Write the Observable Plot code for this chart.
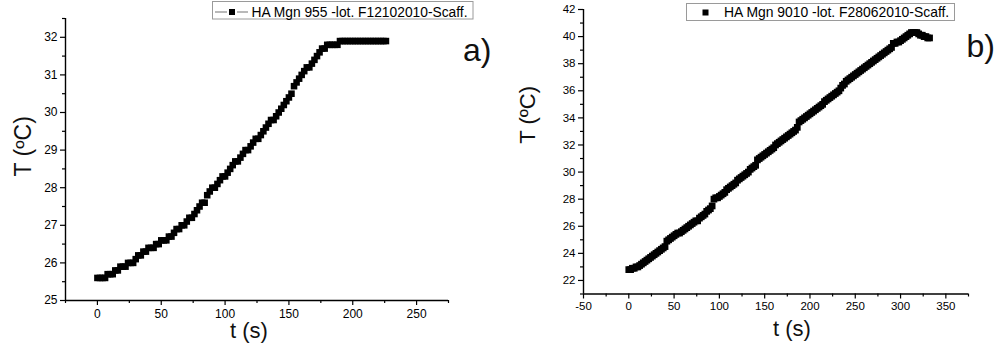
<!DOCTYPE html>
<html>
<head>
<meta charset="utf-8">
<script src="https://cdn.jsdelivr.net/npm/d3@7"></script>
<script src="https://cdn.jsdelivr.net/npm/@observablehq/plot@0.6"></script>
<style>
  html, body { margin: 0; padding: 0; background: #fff; }
  #wrap { position: relative; width: 1001px; height: 352px; overflow: hidden; background: #fff; font-family: "Liberation Sans", Arial, sans-serif; }
  #wrap > .p { position: absolute; top: 0; }
  #overlay { position: absolute; left: 0; top: 0; pointer-events: none; }
</style>
</head>
<body>
<div id="wrap">
  <div class="p" id="pa" style="left:0px"></div>
  <div class="p" id="pb" style="left:500px"></div>
</div>
<script>
// ---------- Panel a data ----------
const tA = [
  0,2,4,6,8,10,12,14,16,18,
  20,22,24,26,28,30,32,34,36,38,
  40,42,44,46,48,50,52,54,56,58,
  60,62,64,66,68,70,72,74,76,78,
  80,82,84,86,88,90,92,94,96,98,
  100,102,104,106,108,110,112,114,116,118,
  120,122,124,126,128,130,132,134,136,138,
  140,142,144,146,148,150,152,154,156,158,
  160,162,164,166,168,170,172,174,176,178,
  180,182,184,186,188,190,192,194,196,198,
  200,202,204,206,208,210,212,214,216,218,
  220,222,224,226
];
const TA = [
  25.6,25.6,25.6,25.6,25.7,25.7,25.7,25.8,25.8,25.9,
  25.9,25.9,26.0,26.0,26.0,26.1,26.2,26.2,26.3,26.3,
  26.4,26.4,26.4,26.5,26.5,26.6,26.6,26.6,26.7,26.7,
  26.8,26.9,26.9,27.0,27.0,27.1,27.2,27.2,27.3,27.4,
  27.5,27.6,27.6,27.8,27.9,28.0,28.0,28.1,28.2,28.3,
  28.3,28.4,28.5,28.6,28.7,28.7,28.8,28.9,29.0,29.0,
  29.1,29.2,29.3,29.3,29.4,29.5,29.6,29.7,29.8,29.8,
  29.9,30.0,30.1,30.2,30.3,30.4,30.5,30.7,30.8,30.9,
  31.0,31.1,31.2,31.2,31.3,31.4,31.5,31.6,31.7,31.7,
  31.8,31.8,31.8,31.8,31.8,31.9,31.9,31.9,31.9,31.9,
  31.9,31.9,31.9,31.9,31.9,31.9,31.9,31.9,31.9,31.9,
  31.9,31.9,31.9,31.9
];
const xDomainA = [-25, 275];
const yDomainA = [25, 32.5];
const xMajorA = [0, 50, 100, 150, 200, 250];
const xMinorA = [-25, 25, 75, 125, 175, 225, 275];
const yMajorA = [25, 26, 27, 28, 29, 30, 31, 32];
const yMinorA = [25.5, 26.5, 27.5, 28.5, 29.5, 30.5, 31.5, 32.5];
const legendA = "HA Mgn 955 -lot. F12102010-Scaff.";
const tagA = "a)";

// ---------- Panel b data ----------
const tB = [
  0,2,4,6,8,10,12,14,16,18,
  20,22,24,26,28,30,32,34,36,38,
  40,42,44,46,48,50,52,54,56,58,
  60,62,64,66,68,70,72,74,76,78,
  80,82,84,86,88,90,92,94,96,98,
  100,102,104,106,108,110,112,114,116,118,
  120,122,124,126,128,130,132,134,136,138,
  140,142,144,146,148,150,152,154,156,158,
  160,162,164,166,168,170,172,174,176,178,
  180,182,184,186,188,190,192,194,196,198,
  200,202,204,206,208,210,212,214,216,218,
  220,222,224,226,228,230,232,234,236,238,
  240,242,244,246,248,250,252,254,256,258,
  260,262,264,266,268,270,272,274,276,278,
  280,282,284,286,288,290,292,294,296,298,
  300,302,304,306,308,310,312,314,316,318,
  320,322,324,326,328,330,332
];
const TB = [
  22.8,22.8,22.9,22.9,23.0,23.0,23.1,23.2,23.3,23.4,
  23.5,23.6,23.7,23.8,23.9,24.0,24.1,24.2,24.3,24.4,
  24.5,24.9,25.0,25.1,25.2,25.3,25.4,25.5,25.5,25.6,
  25.7,25.8,25.9,26.0,26.1,26.2,26.3,26.4,26.4,26.6,
  26.7,26.8,26.9,27.1,27.2,27.3,27.5,28.0,28.1,28.1,
  28.2,28.3,28.4,28.5,28.7,28.8,28.9,29.0,29.1,29.2,
  29.4,29.5,29.6,29.7,29.8,29.9,30.0,30.2,30.3,30.4,
  30.5,30.9,31.0,31.1,31.2,31.3,31.4,31.5,31.6,31.7,
  31.8,32.0,32.1,32.2,32.3,32.4,32.5,32.6,32.7,32.8,
  32.9,33.0,33.1,33.3,33.7,33.8,33.9,34.0,34.1,34.2,
  34.3,34.4,34.5,34.6,34.7,34.8,34.9,35.0,35.2,35.3,
  35.4,35.5,35.6,35.7,35.8,35.9,36.0,36.2,36.4,36.5,
  36.7,36.8,36.9,37.0,37.1,37.2,37.3,37.4,37.5,37.6,
  37.7,37.8,37.9,38.0,38.1,38.2,38.3,38.4,38.5,38.6,
  38.7,38.8,38.9,39.0,39.1,39.2,39.5,39.5,39.6,39.6,
  39.7,39.8,39.9,40.0,40.1,40.2,40.3,40.3,40.3,40.3,
  40.2,40.1,40.1,40.0,40.0,39.9,39.9
];
const xDomainB = [-50, 375];
const yDomainB = [21, 42];
const xMajorB = [-50, 0, 50, 100, 150, 200, 250, 300, 350];
const xMinorB = [-25, 25, 75, 125, 175, 225, 275, 325, 375];
const yMajorB = [22, 24, 26, 28, 30, 32, 34, 36, 38, 40, 42];
const yMinorB = [21, 23, 25, 27, 29, 31, 33, 35, 37, 39, 41];
const legendB = "HA Mgn 9010 -lot. F28062010-Scaff.";
const tagB = "b)";

const xTitle = "t (s)";
const yTitle = "T (ºC)";

const dataA = tA.map((t, i) => ({t, T: TA[i]}));
const dataB = tB.map((t, i) => ({t, T: TB[i]}));

const FONT = "'Liberation Sans', Arial, sans-serif";
const fmt = d => String(d); // plain hyphen-minus, as in the original

function panel(o) {
  return Plot.plot({
    width: o.width, height: 352,
    marginLeft: o.ml, marginRight: o.mr, marginTop: o.mt, marginBottom: o.mb,
    x: {domain: o.xDomain},
    y: {domain: o.yDomain},
    style: {fontFamily: FONT, fontSize: o.fs + "px", color: "#000", background: "transparent", overflow: "visible"},
    marks: [
      Plot.axisX(o.xMajor, {tickSize: 5, tickPadding: o.padX, fontSize: o.fs, label: null, strokeWidth: 1.2, tickFormat: fmt}),
      Plot.axisX(o.xMinor, {tickSize: 3, text: null, label: null, strokeWidth: 1.2}),
      Plot.axisY(o.yMajor, {tickSize: 5, tickPadding: o.padY, fontSize: o.fs, label: null, strokeWidth: 1.2, tickFormat: fmt}),
      Plot.axisY(o.yMinor, {tickSize: 3, text: null, label: null, strokeWidth: 1.2}),
      Plot.ruleY([o.yDomain[0]], {stroke: "#000", strokeWidth: 1.4}),
      Plot.ruleX([o.xDomain[0]], {stroke: "#000", strokeWidth: 1.4}),
      Plot.dot(o.data, {x: "t", y: "T", symbol: "square", r: o.r, fill: "#000", stroke: null}),
      Plot.text([xTitle], {text: d => d, frameAnchor: "bottom", dx: o.xtdx, dy: o.xtdy, fontSize: 22, fill: "#111"}),
      Plot.text([yTitle], {text: d => d, frameAnchor: "left", rotate: -90, dx: o.ytdx, dy: o.ytdy, fontSize: o.ytfs, fill: "#111"})
    ]
  });
}

document.getElementById("pa").appendChild(panel({
  width: 500, ml: 65, mr: 52, mt: 18, mb: 52,
  xDomain: xDomainA, yDomain: yDomainA,
  xMajor: xMajorA, xMinor: xMinorA, yMajor: yMajorA, yMinor: yMinorA,
  fs: 12, padX: 4, padY: 3, data: dataA, r: 3.7,
  xtdx: -8, xtdy: 37, ytdx: -42, ytdy: 17, ytfs: 23
}));

document.getElementById("pb").appendChild(panel({
  width: 501, ml: 83, mr: 33, mt: 9, mb: 58.5,
  xDomain: xDomainB, yDomain: yDomainB,
  xMajor: xMajorB, xMinor: xMinorB, yMajor: yMajorB, yMinor: yMinorB,
  fs: 11.5, padX: 3, padY: 3, data: dataB, r: 3.8,
  xtdx: 16, xtdy: 42, ytdx: -56, ytdy: -8, ytfs: 22
}));

// ---------- Overlay: legends and panel tags ----------
const NS = "http://www.w3.org/2000/svg";
const ov = document.createElementNS(NS, "svg");
ov.setAttribute("id", "overlay");
ov.setAttribute("width", 1001);
ov.setAttribute("height", 352);
function el(name, attrs, text) {
  const e = document.createElementNS(NS, name);
  for (const k in attrs) e.setAttribute(k, attrs[k]);
  if (text != null) e.textContent = text;
  ov.appendChild(e);
  return e;
}
// legend a
el("rect", {x: 212.5, y: 1.5, width: 260.5, height: 17.5, fill: "#fff", stroke: "#9a9a9a", "stroke-width": 1});
el("line", {x1: 215, x2: 227, y1: 12, y2: 12, stroke: "#8a8a8a", "stroke-width": 1.2});
el("line", {x1: 237, x2: 248, y1: 12, y2: 12, stroke: "#8a8a8a", "stroke-width": 1.2});
el("rect", {x: 229, y: 9, width: 6, height: 6, fill: "#000"});
el("text", {x: 251.5, y: 16.6, "font-family": FONT, "font-size": 13.8, fill: "#000"}, legendA);
// legend b
el("rect", {x: 686.5, y: 3.5, width: 268, height: 17, fill: "#fff", stroke: "#9a9a9a", "stroke-width": 1});
el("rect", {x: 702.5, y: 9.5, width: 6, height: 6, fill: "#000"});
el("text", {x: 724, y: 17.3, "font-family": FONT, "font-size": 13.9, fill: "#000"}, legendB);
// panel tags
el("text", {x: 463, y: 61, "font-family": FONT, "font-size": 32, fill: "#111"}, tagA);
el("text", {x: 966.5, y: 57, "font-family": FONT, "font-size": 32, fill: "#111"}, tagB);
document.getElementById("wrap").appendChild(ov);
</script>
</body>
</html>
